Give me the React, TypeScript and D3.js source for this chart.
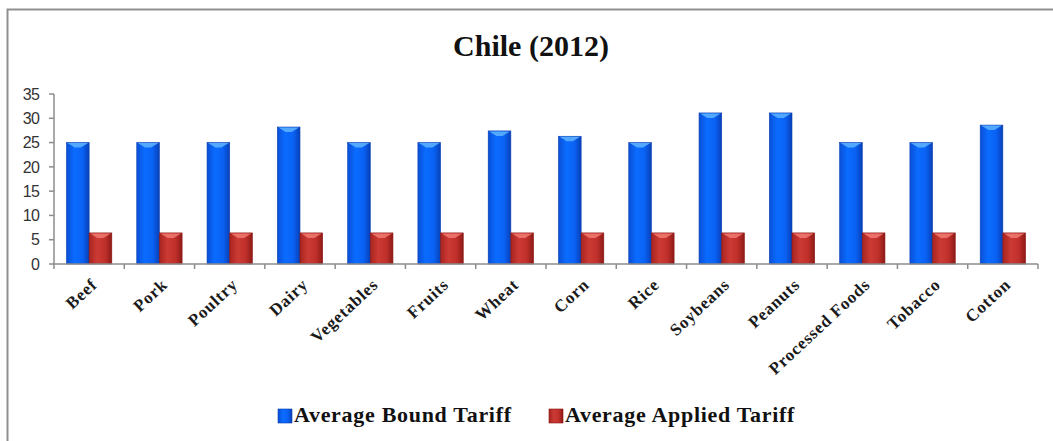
import * as d3 from 'd3'

const categories = ['Beef', 'Pork', 'Poultry', 'Dairy', 'Vegetables', 'Fruits', 'Wheat', 'Corn', 'Rice', 'Soybeans', 'Peanuts', 'Processed Foods', 'Tobacco', 'Cotton']
const seriesNames = ['Average Bound Tariff', 'Average Applied Tariff']
const boundTariff = [25, 25, 25, 28.2, 25, 25, 27.4, 26.3, 25, 31.1, 31.1, 25, 25, 28.6]
const appliedTariff = [6.4, 6.4, 6.4, 6.4, 6.4, 6.4, 6.4, 6.4, 6.4, 6.4, 6.4, 6.4, 6.4, 6.4]
const yTicks = [0, 5, 10, 15, 20, 25, 30, 35]

const W = 1053
const H = 441
const margin = { top: 94, right: 15, bottom: 177, left: 54 }

const serif = '"Liberation Serif", "Times New Roman", serif'

export default function App() {
  const x0 = d3.scaleBand<string>().domain(categories).range([margin.left, W - margin.right])
  const x1 = d3.scaleBand<string>().domain(seriesNames).range([0, x0.bandwidth()]).paddingOuter(0.55)
  const y = d3.scaleLinear().domain([0, 35]).range([H - margin.bottom, margin.top])
  const base = y(0)
  const bw = x1.bandwidth()

  const series = [
    { name: seriesNames[0], values: boundTariff, grad: 'gBlue', cap: '#5fb4ff', edge: '#0a3fb0' },
    { name: seriesNames[1], values: appliedTariff, grad: 'gRed', cap: '#f07a72', edge: '#8a1512' },
  ]

  return (
    <div style={{ position: 'absolute', left: 0, top: 0 }}>
      <svg width={W} height={H} style={{ display: 'block', background: '#fff' }}>
        <defs>
          <linearGradient id="gBlue" x1="0" x2="1" y1="0" y2="0">
            <stop offset="0" stopColor="#0a4fd6" />
            <stop offset="0.35" stopColor="#0a6cff" />
            <stop offset="0.7" stopColor="#0a62f4" />
            <stop offset="1" stopColor="#0840b8" />
          </linearGradient>
          <linearGradient id="gRed" x1="0" x2="1" y1="0" y2="0">
            <stop offset="0" stopColor="#a82420" />
            <stop offset="0.35" stopColor="#cc3a34" />
            <stop offset="0.7" stopColor="#c0302b" />
            <stop offset="1" stopColor="#8e1a17" />
          </linearGradient>
        </defs>

        <rect x={7.5} y={9.5} width={W} height={H} fill="#fff" stroke="#8f8f8f" strokeWidth={2} />

        <text x={531} y={56} textAnchor="middle" fontFamily={serif} fontWeight="bold" fontSize={30} fill="#111">
          Chile (2012)
        </text>

        {/* y axis */}
        <line x1={margin.left} x2={margin.left} y1={y(35)} y2={base} stroke="#8c8c8c" strokeWidth={1.5} />
        {yTicks.map(t => (
          <g key={t}>
            <line x1={margin.left - 5} x2={margin.left} y1={y(t)} y2={y(t)} stroke="#8c8c8c" strokeWidth={1.5} />
            <text x={39} y={y(t)} dy="0.36em" textAnchor="end" fontFamily='"Liberation Sans", Arial, sans-serif' fontSize={16} letterSpacing={-0.8} fill="#333">
              {t}
            </text>
          </g>
        ))}

        {/* bars */}
        {series.map(s => (
          <g key={s.name}>
            {categories.map((c, i) => {
              const bx = x0(c)! + x1(s.name)!
              const by = y(s.values[i])
              return (
                <g key={c}>
                  <rect x={bx} y={by} width={bw} height={base - by} fill={`url(#${s.grad})`} stroke={s.edge} strokeWidth={0.6} />
                  <path d={`M${bx + 1},${by + 0.5} L${bx + bw - 1},${by + 0.5} L${bx + bw / 2 + 3},${by + 5} L${bx + bw / 2 - 3},${by + 5} Z`} fill={s.cap} opacity={0.85} />
                </g>
              )
            })}
          </g>
        ))}

        {/* x axis */}
        <line x1={margin.left} x2={W - margin.right} y1={base} y2={base} stroke="#8c8c8c" strokeWidth={1.5} />
        {[...categories.map(c => x0(c)!), W - margin.right].map((tx, i) => (
          <line key={i} x1={tx} x2={tx} y1={base} y2={base + 5} stroke="#8c8c8c" strokeWidth={1.5} />
        ))}
        {categories.map(c => {
          const cx = x0(c)! + x0.bandwidth() / 2
          return (
            <text key={c} transform={`translate(${cx + 9},${base + 22}) rotate(-43)`} textAnchor="end" fontFamily={serif} fontWeight="bold" fontSize={17} letterSpacing={0.8} fill="#1a1a1a">
              {c}
            </text>
          )
        })}

        {/* legend */}
        {series.map((s, i) => {
          const lx = i === 0 ? 278 : 549
          return (
            <g key={s.name} transform={`translate(${lx},409)`}>
              <rect width={14} height={14} fill={`url(#${s.grad})`} stroke={s.edge} strokeWidth={0.6} />
              <text x={16} y={13} fontFamily={serif} fontWeight="bold" fontSize={22} letterSpacing={0.7} fill="#111">
                {s.name}
              </text>
            </g>
          )
        })}
      </svg>
    </div>
  )
}
